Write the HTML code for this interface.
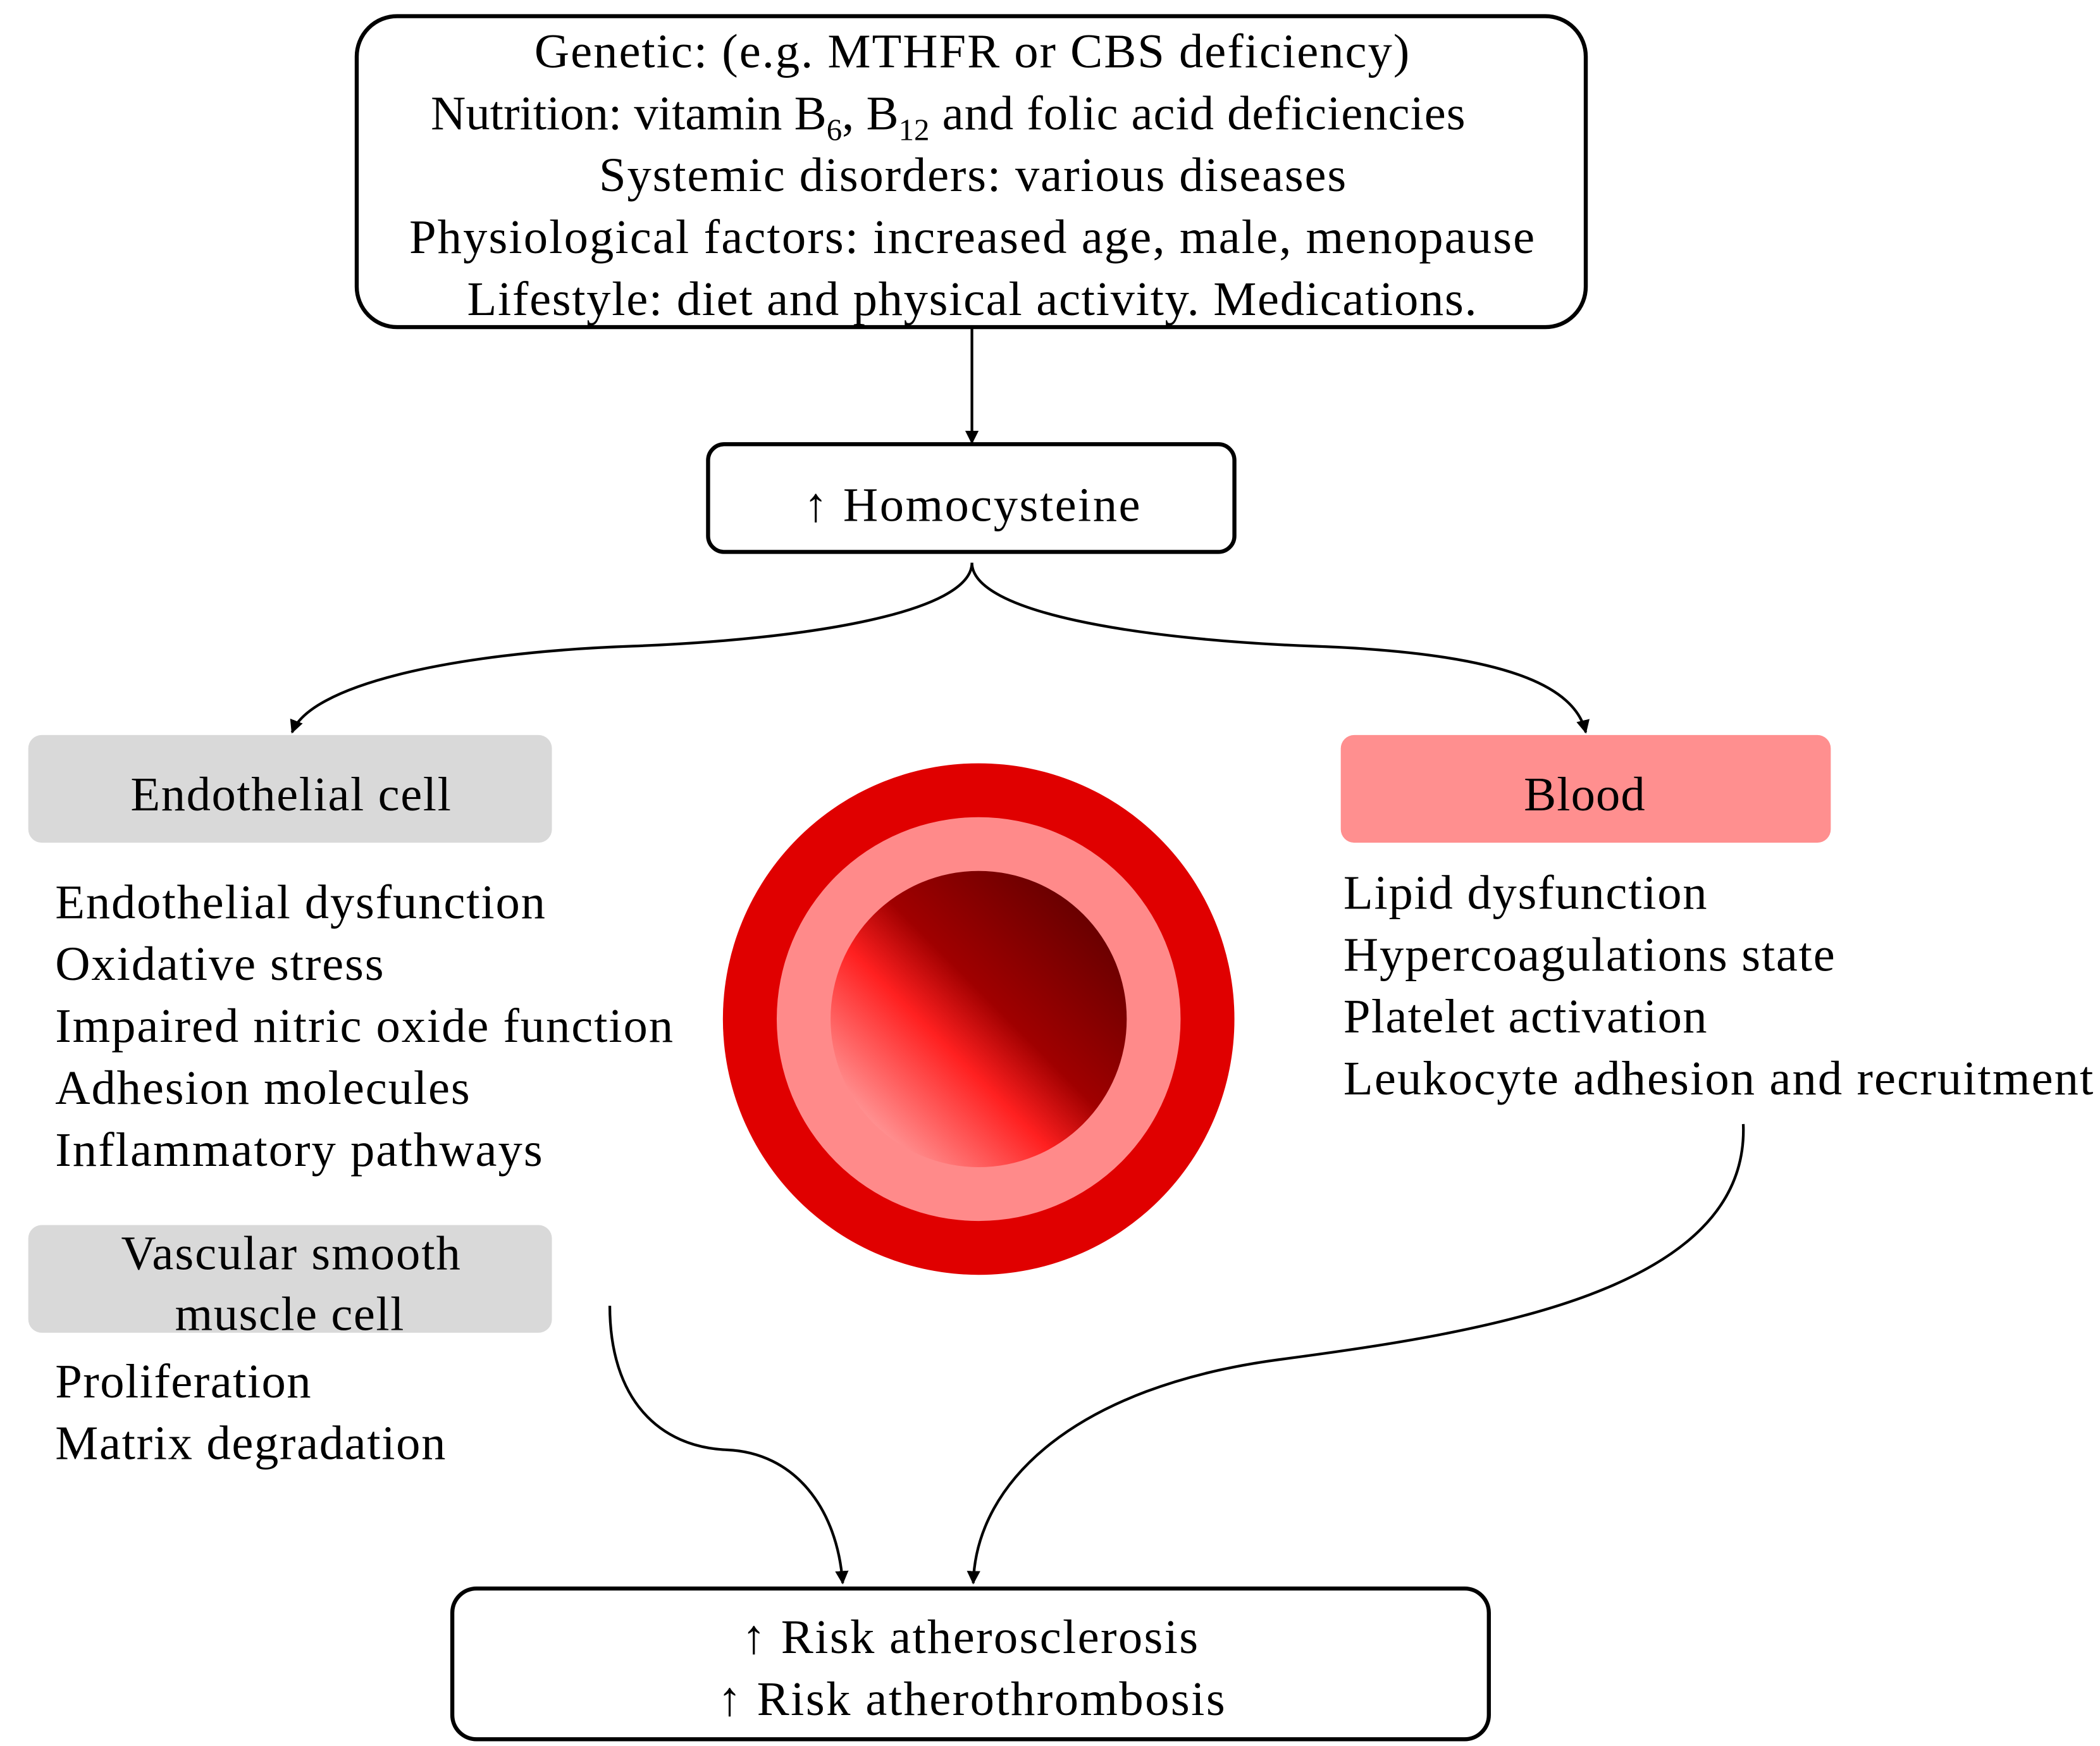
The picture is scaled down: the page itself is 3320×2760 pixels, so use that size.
<!DOCTYPE html>
<html><head><meta charset="utf-8"><style>html,body{margin:0;padding:0;background:#fff}svg{display:block}text{font-family:"Liberation Serif",serif;font-size:36px;fill:#000}</style></head>
<body>
<svg width="3320" height="2760" viewBox="0 0 1560 1297" preserveAspectRatio="none" xmlns="http://www.w3.org/2000/svg">
<defs>
<marker id="ah" viewBox="0 0 10 10" refX="9" refY="5" markerWidth="5" markerHeight="5" orient="auto"><path d="M0,0 L10,5 L0,10 z" fill="#000"/></marker>
<linearGradient id="g" x1="0" y1="1" x2="1" y2="0">
<stop offset="0" stop-color="#ffd0d0"/><stop offset="0.4" stop-color="#ff2020"/><stop offset="0.55" stop-color="#a00000"/><stop offset="1" stop-color="#500000"/></linearGradient>
</defs>
<rect x="265" y="12" width="913" height="231" rx="30" fill="#fff" stroke="#000" stroke-width="3"/>
<text x="397" y="50" textLength="650" lengthAdjust="spacing">Genetic: (e.g. MTHFR  or CBS  deficiency)</text>
<text x="320" y="96">Nutrition: vitamin B<tspan font-size="23" dy="8">6</tspan><tspan dy="-8">, B</tspan><tspan font-size="23" dy="8">12</tspan><tspan dy="-8" textLength="398" lengthAdjust="spacing"> and folic acid deficiencies</tspan></text>
<text x="445" y="142" textLength="555" lengthAdjust="spacing">Systemic disorders: various diseases</text>
<text x="304" y="188" textLength="836" lengthAdjust="spacing">Physiological  factors: increased age, male, menopause</text>
<text x="347" y="234" textLength="750" lengthAdjust="spacing">Lifestyle:  diet and physical activity.  Medications.</text>
<line x1="722" y1="243" x2="722" y2="329" stroke="#000" stroke-width="2" marker-end="url(#ah)"/>
<rect x="526" y="330" width="391" height="80" rx="12" fill="#fff" stroke="#000" stroke-width="3"/>
<text x="597" y="387" textLength="250" lengthAdjust="spacing">↑ Homocysteine</text>
<path d="M722,418 C722,455 600,475 470,480 C330,485 230,510 217,544" fill="none" stroke="#000" stroke-width="2" marker-end="url(#ah)"/>
<path d="M722,418 C722,455 845,475 975,480 C1120,485 1170,510 1178,544" fill="none" stroke="#000" stroke-width="2" marker-end="url(#ah)"/>
<rect x="21" y="546" width="389" height="80" rx="10" fill="#d9d9d9"/>
<text x="97" y="602" textLength="238" lengthAdjust="spacing">Endothelial cell</text>
<text x="41" y="682" textLength="364" lengthAdjust="spacing">Endothelial dysfunction</text>
<text x="41" y="728" textLength="244" lengthAdjust="spacing">Oxidative stress</text>
<text x="41" y="774" textLength="459" lengthAdjust="spacing">Impaired nitric oxide function</text>
<text x="41" y="820" textLength="308" lengthAdjust="spacing">Adhesion molecules</text>
<text x="41" y="866" textLength="362" lengthAdjust="spacing">Inflammatory pathways</text>
<circle cx="727" cy="757" r="190" fill="#e00000"/>
<circle cx="727" cy="757" r="150" fill="#ff8a8a"/>
<circle cx="727" cy="757" r="110" fill="url(#g)"/>
<rect x="996" y="546" width="364" height="80" rx="10" fill="#ff8f8f"/>
<text x="1132" y="602" textLength="90" lengthAdjust="spacing">Blood</text>
<text x="998" y="675" textLength="270" lengthAdjust="spacing">Lipid dysfunction</text>
<text x="998" y="721" textLength="365" lengthAdjust="spacing">Hypercoagulations  state</text>
<text x="998" y="767" textLength="270" lengthAdjust="spacing">Platelet activation</text>
<text x="998" y="813" textLength="557" lengthAdjust="spacing">Leukocyte adhesion and recruitment</text>
<rect x="21" y="910" width="389" height="80" rx="10" fill="#d9d9d9"/>
<text x="90" y="943" textLength="252" lengthAdjust="spacing">Vascular smooth</text>
<text x="130" y="988" textLength="170" lengthAdjust="spacing">muscle cell</text>
<text x="41" y="1038" textLength="190" lengthAdjust="spacing">Proliferation</text>
<text x="41" y="1084" textLength="290" lengthAdjust="spacing">Matrix  degradation</text>
<path d="M453,970 C453,1040 490,1075 540,1077 C590,1079 622,1120 626,1176" fill="none" stroke="#000" stroke-width="2" marker-end="url(#ah)"/>
<path d="M1295,835 C1300,960 1100,990 950,1010 C800,1030 725,1100 723,1176" fill="none" stroke="#000" stroke-width="2" marker-end="url(#ah)"/>
<rect x="336" y="1180" width="770" height="112" rx="18" fill="#fff" stroke="#000" stroke-width="3"/>
<text x="551" y="1228" textLength="339" lengthAdjust="spacing">↑ Risk atherosclerosis</text>
<text x="533" y="1274" textLength="377" lengthAdjust="spacing">↑ Risk atherothrombosis</text>
</svg>
</body></html>
